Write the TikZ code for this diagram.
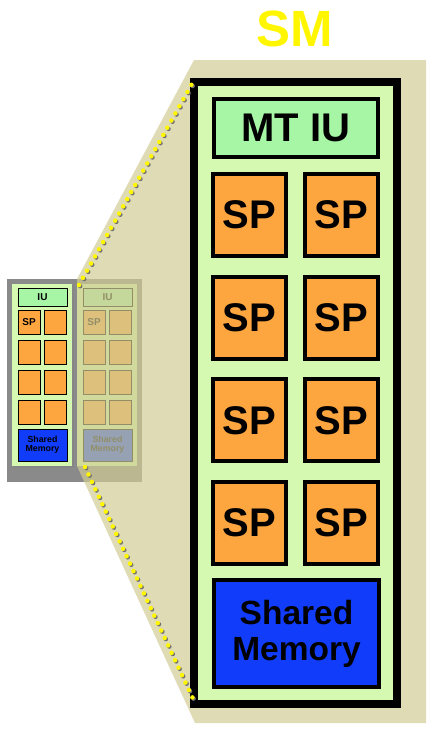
\documentclass[tikz,border=0pt]{standalone}
\usepackage{fontspec}
\setmainfont{Liberation Sans}
\usepackage{tikz}
\usetikzlibrary{shapes,shadows}
\definecolor{smgreen}{RGB}{213,249,176}
\definecolor{iugreen}{RGB}{166,246,166}
\definecolor{sporange}{RGB}{253,166,64}
\definecolor{memblue}{RGB}{16,60,250}
\definecolor{fanbeige}{RGB}{208,204,149}
\definecolor{gpugray}{RGB}{138,138,138}
\definecolor{smyellow}{RGB}{255,246,0}
\tikzstyle{shade} = [drop shadow={opacity=0.3, shadow xshift=1.5pt, shadow yshift=-1.5pt}]
\tikzstyle{frame} = [rectangle, draw, line width=8pt, fill=smgreen, minimum width=203pt, minimum height=622pt, shade]
\tikzstyle{iubox} = [rectangle, draw, line width=4pt, fill=iugreen, inner sep=0pt,
    minimum width=164pt, minimum height=58pt, font=\fontsize{40}{40}\selectfont\bfseries, shade]
\tikzstyle{spbox} = [rectangle, draw, line width=4pt, fill=sporange, inner sep=0pt,
    minimum width=73pt, minimum height=82pt, font=\fontsize{40}{40}\selectfont\bfseries, shade]
\tikzstyle{membox} = [rectangle, draw, line width=4pt, fill=memblue, inner sep=0pt, align=center,
    minimum width=165pt, minimum height=107pt, font=\fontsize{33.5}{36}\selectfont\bfseries, shade]
\tikzstyle{gpubox} = [rectangle, fill=gpugray, minimum width=135pt, minimum height=203pt]
\tikzstyle{tinysm} = [rectangle, fill=smgreen, minimum width=60pt, minimum height=182pt, shade]
\tikzstyle{tinyiu} = [rectangle, draw, line width=1pt, fill=iugreen, inner sep=0pt,
    minimum width=49pt, minimum height=18pt, font=\fontsize{10}{10}\selectfont\bfseries]
\tikzstyle{tinysp} = [rectangle, draw, line width=1pt, fill=sporange, inner sep=0pt,
    minimum width=22pt, minimum height=24pt, font=\fontsize{10}{10}\selectfont\bfseries]
\tikzstyle{tinymem} = [rectangle, draw, line width=1pt, fill=memblue, inner sep=0pt, align=center,
    minimum width=49pt, minimum height=32pt, font=\fontsize{8.8}{9}\selectfont\bfseries]
\tikzstyle{link} = [draw=smyellow, line width=4.5pt, line cap=round, dash pattern=on 0pt off 8.2pt]
\tikzstyle{linkshadow} = [draw=black!55, line width=4.5pt, line cap=round, dash pattern=on 0pt off 8.2pt,
    transform canvas={shift={(1.2pt,-1.2pt)}}]

\begin{document}
\begin{tikzpicture}[x=1pt, y=-1pt, node distance=102.7pt]
    \useasboundingbox (0,0) rectangle (434,732);

    % Small GPU on the left
    \node [gpubox] (gpu) at (74.5,380.5) {};
    \node [tinysm] (sma) at (42,375) {};
    \node [tinyiu] (iua) at (42.5,297) {IU};
    \node [tinysp] (spa1) at (29,322) {SP};
    \node [tinysp] (spa2) at (55.5,322) {};
    \node [tinysp] (spa3) at (29,352) {};
    \node [tinysp] (spa4) at (55.5,352) {};
    \node [tinysp] (spa5) at (29,382) {};
    \node [tinysp] (spa6) at (55.5,382) {};
    \node [tinysp] (spa7) at (29,412) {};
    \node [tinysp] (spa8) at (55.5,412) {};
    \node [tinymem] (mema) at (42.5,445) {Shared\\Memory};

    \node [tinysm] (smb) at (107,375) {};
    \node [tinyiu] (iub) at (107.5,297) {IU};
    \node [tinysp] (spb1) at (94,322) {SP};
    \node [tinysp] (spb2) at (120.5,322) {};
    \node [tinysp] (spb3) at (94,352) {};
    \node [tinysp] (spb4) at (120.5,352) {};
    \node [tinysp] (spb5) at (94,382) {};
    \node [tinysp] (spb6) at (120.5,382) {};
    \node [tinysp] (spb7) at (94,412) {};
    \node [tinysp] (spb8) at (120.5,412) {};
    \node [tinymem] (memb) at (107.5,445) {Shared\\Memory};

    % Zoom fan
    \fill [fanbeige, opacity=0.7] (77,279) -- (194,60) -- (426,60) -- (426,723)
        -- (195,723) -- (77,466) -- cycle;

    % Title
    \node [text=smyellow, font=\fontsize{51}{51}\selectfont\bfseries] (title) at (295,28.5) {SM};

    % Enlarged SM
    \node [frame] (sm) at (295.5,393) {};
    \node [iubox] (mtiu) at (296,128) {MT IU};
    \node [spbox] (sp1) at (249.5,215) {SP};
    \node [spbox] (sp2) at (341.5,215) {SP};
    \node [spbox, below of=sp1] (sp3) {SP};
    \node [spbox, below of=sp2] (sp4) {SP};
    \node [spbox, below of=sp3] (sp5) {SP};
    \node [spbox, below of=sp4] (sp6) {SP};
    \node [spbox, below of=sp5] (sp7) {SP};
    \node [spbox, below of=sp6] (sp8) {SP};
    \node [membox] (mem) at (296.5,633.5) {Shared\\Memory};

    % Dotted zoom lines
    \coordinate (fromtop) at (79,285);
    \coordinate (totop) at (193,82);
    \coordinate (frombot) at (85,467);
    \coordinate (tobot) at (195,703);
    \path [linkshadow] (fromtop) -- (totop);
    \path [linkshadow] (frombot) -- (tobot);
    \path [link] (fromtop) -- (totop);
    \path [link] (frombot) -- (tobot);
\end{tikzpicture}
\end{document}
